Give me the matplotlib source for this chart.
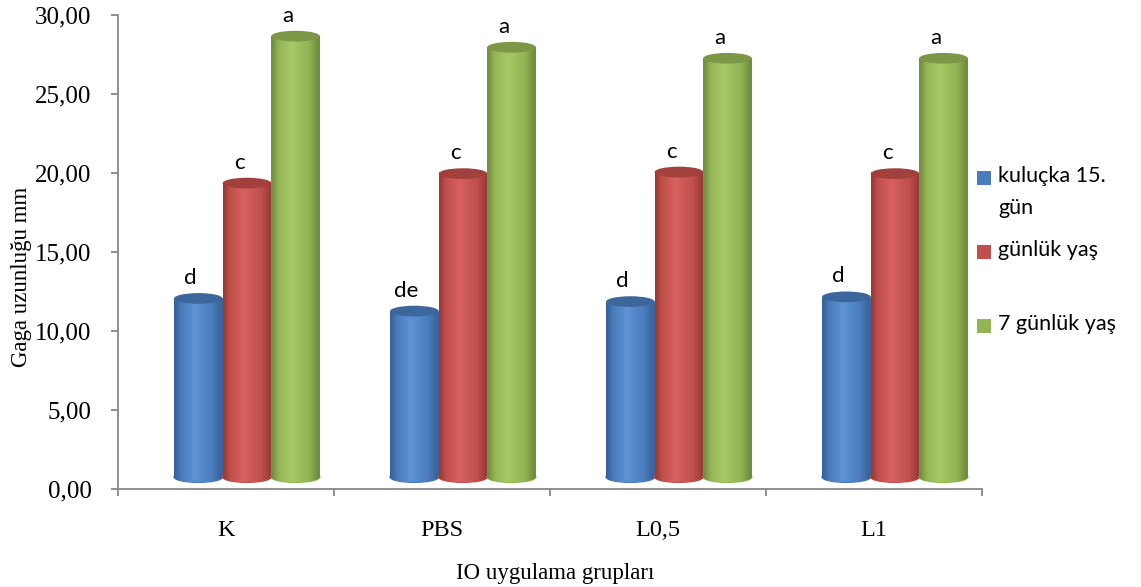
import matplotlib
matplotlib.use("Agg")
import matplotlib.pyplot as plt
import numpy as np
from matplotlib.colors import LinearSegmentedColormap
from matplotlib.patches import Ellipse, PathPatch, Rectangle
from matplotlib.path import Path
from matplotlib.ticker import FuncFormatter

# gruplar ve ölçümler (mm)
groups = ["K", "PBS", "L0,5", "L1"]
series_names = ["kuluçka 15.\ngün", "günlük yaş", "7 günlük yaş"]
kulucka_15 = [11.3, 10.5, 11.1, 11.4]
gunluk = [18.6, 19.2, 19.3, 19.2]
yedi_gunluk = [27.9, 27.2, 26.5, 26.5]

# istatistik harfleri
kulucka_harf = ["d", "de", "d", "d"]
gunluk_harf = ["c", "c", "c", "c"]
yedi_harf = ["a", "a", "a", "a"]

# renkler: kenar, orta, parlak, üst elips
colors = [
    ("#375f93", "#4a7cbc", "#5e93d4", "#3d679c"),
    ("#953734", "#c0504d", "#d6625e", "#a2403d"),
    ("#6b873a", "#93b455", "#a9c966", "#7c9846"),
]

fig = plt.figure(figsize=(11.41, 5.87), dpi=100)
ax = fig.add_axes([118 / 1141, 98 / 587, 864 / 1141, 474 / 587])

w = 0.225      # silindir genişliği
dx = 0.097     # derinlik kayması (sağa)
base = 0.76    # derinlik kayması (yukarı)
eh = 0.68      # elips yüksekliği

grad = np.linspace(0, 1, 200).reshape(1, -1)
data = [kulucka_15, gunluk, yedi_gunluk]
letters = [kulucka_harf, gunluk_harf, yedi_harf]

for i, (vals, labs, (c_edge, c_mid, c_light, c_top)) in enumerate(zip(data, letters, colors)):
    cmap = LinearSegmentedColormap.from_list(
        "cyl%d" % i,
        [(0, c_edge), (0.15, c_mid), (0.42, c_light), (0.78, c_mid), (1, c_edge)],
    )
    xs = np.arange(len(groups)) + dx + (i - 1) * w
    bars = ax.bar(xs, vals, w, bottom=base, color=c_mid, edgecolor="none", zorder=2 + i)
    for bar, v, lab in zip(bars, vals, labs):
        x0 = bar.get_x()
        x1 = x0 + bar.get_width()
        xc = x0 + w / 2
        top = bar.get_y() + bar.get_height()
        # gövde + alt yarım elips
        t = np.linspace(np.pi, 2 * np.pi, 40)
        arc = np.column_stack([xc + w / 2 * np.cos(t), base + eh / 2 * np.sin(t)])
        verts = np.vstack([[x0, top], [x0, base], arc, [x1, base], [x1, top], [x0, top]])
        codes = [Path.MOVETO] + [Path.LINETO] * (len(verts) - 2) + [Path.CLOSEPOLY]
        clip = PathPatch(Path(verts, codes), transform=ax.transData)
        bot = Ellipse((xc, base), w, eh, color=c_mid, zorder=2 + i)
        ax.add_patch(bot)
        img = ax.imshow(grad, cmap=cmap, extent=(x0, x1, base - eh / 2, top),
                        aspect="auto", zorder=2 + i, interpolation="bilinear")
        img.set_clip_path(clip)
        ax.add_patch(Ellipse((xc, top), w, eh, facecolor=c_top, edgecolor="none",
                             zorder=2 + i + 0.5))
        ax.text(xc - 0.037, top + 1.3, lab, ha="center", va="center",
                fontsize=16, family="Lato", zorder=10)

ax.set_xlim(-0.5, 3.5)
ax.set_ylim(0, 30)

ax.set_yticks(np.arange(0, 31, 5))
ax.yaxis.set_major_formatter(FuncFormatter(lambda v, p: ("%.2f" % v).replace(".", ",")))
ax.set_xticks(np.arange(-0.5, 4, 1))
ax.set_xticklabels([])
ax.set_xticks(np.arange(len(groups)), minor=True)
ax.set_xticklabels(groups, minor=True)

gray = "#878787"
for s in ["top", "right"]:
    ax.spines[s].set_visible(False)
for s in ["left", "bottom"]:
    ax.spines[s].set_color(gray)
    ax.spines[s].set_linewidth(1.3)
ax.tick_params(axis="both", which="major", color=gray, length=5, width=1.3, direction="out")
ax.tick_params(axis="y", pad=14, labelsize=18)
ax.tick_params(axis="x", which="minor", length=0, pad=22, labelsize=17.5)
for lbl in ax.get_yticklabels() + ax.get_xticklabels(minor=True):
    lbl.set_family("Liberation Serif")

fig.text(22 / 1141, 1 - 277 / 587, "Gaga uzunluğu mm", rotation=90, ha="center", va="center",
         fontsize=16.5, family="Liberation Serif")
fig.text(555 / 1141, 1 - 573 / 587, "IO uygulama grupları", ha="center", va="center",
         fontsize=16.5, family="Liberation Serif")

# açıklama kutusu
leg_y = [178, 252, 326]
for name, (c_edge, c_mid, c_light, c_top), y in zip(series_names, colors, leg_y):
    fig.patches.append(Rectangle(((977) / 1141, 1 - (y + 7) / 587), 14 / 1141, 14 / 587,
                                 facecolor=c_mid, edgecolor="none",
                                 transform=fig.transFigure, figure=fig))
    fig.text(998 / 1141, 1 - (y - 12) / 587, name, ha="left", va="top", fontsize=15.5,
             family="Lato", linespacing=1.75)

fig.savefig("out.png", dpi=100)
